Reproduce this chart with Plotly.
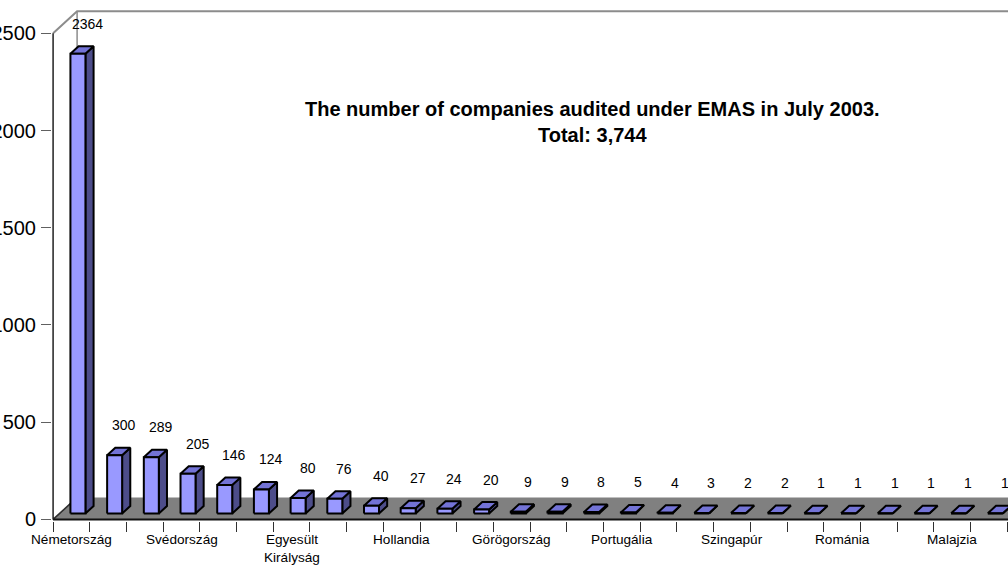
import plotly.graph_objects as go

# ---------------- data ----------------
categories = ["Németország", "Spanyolország", "Ausztria", "Svédország", "Dánia",
              "Olaszország", "Egyesült Királyság", "Finnország", "Norvégia",
              "Hollandia", "Belgium", "Franciaország", "Görögország", "Írország",
              "Luxemburg", "Portugália", "Izland", "Csehország", "Szingapúr",
              "Lengyelország", "Magyarország", "Románia", "Szlovákia", "Szlovénia",
              "Malajzia", "Thaiföld", "Brazília"]
values = [2364, 300, 289, 205, 146, 124, 80, 76, 40, 27, 24, 20, 9, 9, 8, 5, 4,
          3, 2, 2, 1, 1, 1, 1, 1, 1, 1]
y_ticks = [0, 500, 1000, 1500, 2000, 2500]
title_line = "The number of companies audited under EMAS in July 2003."

# ---------------- geometry (pixels -> data units) ----------------
W, H = 1008, 567
CAT_PX = 36.7          # pixels per category
K = 0.19429            # pixels per value unit
X0 = -0.03
Y_LO, Y_HI = -8, 2625
zero_px = 519
margin_l = 53 + X0 * CAT_PX
margin_t = zero_px - Y_HI * K
margin_b = H - (zero_px - Y_LO * K)
x_hi = X0 + (W - margin_l) / CAT_PX

DX = 24 / CAT_PX       # depth vector in data units
DY = 22 / K
F0, F1 = 0.27, 0.61    # bar depth fractions
HW = 7.5 / CAT_PX      # half bar width
N = len(values)
XEND = N + 3

FONT = "Liberation Sans, Arial, sans-serif"
FRONT, TOP, SIDE = "#9999FF", "#7373D6", "#4D4D8A"

fig = go.Figure()

# floor
fig.add_trace(go.Scatter(
    x=[0, XEND, XEND + DX, DX, 0], y=[0, 0, DY, DY, 0],
    fill="toself", fillcolor="#808080", mode="lines",
    line=dict(color="#808080", width=0), hoverinfo="skip", showlegend=False))

# wall edges
wall = "#8C8C8C"
fig.add_trace(go.Scatter(
    x=[0, DX, XEND + DX], y=[2500, 2500 + DY, 2500 + DY], mode="lines",
    line=dict(color=wall, width=2), hoverinfo="skip", showlegend=False))
fig.add_trace(go.Scatter(
    x=[DX, DX], y=[DY, 2500 + DY], mode="lines",
    line=dict(color=wall, width=1.5), hoverinfo="skip", showlegend=False))

# axes lines
axis_col = "#303030"
fig.add_trace(go.Scatter(
    x=[DX, 0, 0], y=[DY, 0, 2500], mode="lines",
    line=dict(color=axis_col, width=1.6), hoverinfo="skip", showlegend=False))
fig.add_trace(go.Scatter(
    x=[0, XEND], y=[0, 0], mode="lines",
    line=dict(color="#111111", width=2), hoverinfo="skip", showlegend=False))

# bars
sx, sy, tx, ty, fx, fy = [], [], [], [], [], []
for i, v in enumerate(values):
    c = i + 0.5
    xl, xr = c - HW, c + HW
    a0x, a0y = F0 * DX, F0 * DY
    a1x, a1y = F1 * DX, F1 * DY
    # side
    sx += [xr + a0x, xr + a1x, xr + a1x, xr + a0x, xr + a0x, None]
    sy += [a0y, a1y, a1y + v, a0y + v, a0y, None]
    # top
    tx += [xl + a0x, xr + a0x, xr + a1x, xl + a1x, xl + a0x, None]
    ty += [a0y + v, a0y + v, a1y + v, a1y + v, a0y + v, None]
    # front
    fx += [xl + a0x, xr + a0x, xr + a0x, xl + a0x, xl + a0x, None]
    fy += [a0y, a0y, a0y + v, a0y + v, a0y, None]

for xs, ys, col in [(sx, sy, SIDE), (tx, ty, TOP), (fx, fy, FRONT)]:
    fig.add_trace(go.Scatter(
        x=xs, y=ys, fill="toself", fillcolor=col, mode="lines",
        line=dict(color="black", width=2), hoverinfo="skip", showlegend=False))

annotations = []
# value labels
for i, v in enumerate(values):
    annotations.append(dict(
        x=i + 0.5, y=v, xref="x", yref="y", text=str(v), showarrow=False,
        xshift=16, yshift=36, font=dict(family=FONT, size=14, color="black")))

# category labels (every third)
for i in range(0, N, 3):
    lab = categories[i]
    if len(lab) > 12:
        lab = lab.replace(" ", "<br>")
    annotations.append(dict(
        x=i + 0.5, y=0, xref="x", yref="y", text=lab, showarrow=False,
        yanchor="top", yshift=-11, font=dict(family=FONT, size=13.6, color="black")))

# title
plot_h = H - margin_t - margin_b
annotations.append(dict(
    x=(592.5 - margin_l) / (W - margin_l), y=(H - margin_b - 121.5) / plot_h,
    xref="paper", yref="paper", showarrow=False, yanchor="middle",
    text=f"<b>{title_line}<br>Total: {sum(values):,}</b>",
    font=dict(family=FONT, size=20, color="black")))

fig.update_layout(
    width=W, height=H,
    margin=dict(l=margin_l, r=0, t=margin_t, b=margin_b, pad=0, autoexpand=False),
    paper_bgcolor="white", plot_bgcolor="white",
    annotations=annotations,
    xaxis=dict(range=[X0, x_hi], showgrid=False, zeroline=False, showline=False,
               automargin=False,
               tickvals=list(range(0, XEND + 1)), ticktext=[""] * (XEND + 1),
               ticks="outside", ticklen=10, tickwidth=1.3, tickcolor="#303030",
               fixedrange=True),
    yaxis=dict(range=[Y_LO, Y_HI], showgrid=False, zeroline=False, showline=False,
               automargin=False, ticklabelstandoff=1,
               tickvals=y_ticks, ticktext=[str(t) for t in y_ticks],
               ticks="outside", ticklen=10, tickwidth=1.3, tickcolor="#606060",
               tickfont=dict(family=FONT, size=20, color="black"),
               fixedrange=True),
    showlegend=False,
)

fig.write_html(
    "out.html",
    config={"displayModeBar": False},
    post_script="document.body.style.margin='0px';document.body.style.overflow='hidden';",
)
